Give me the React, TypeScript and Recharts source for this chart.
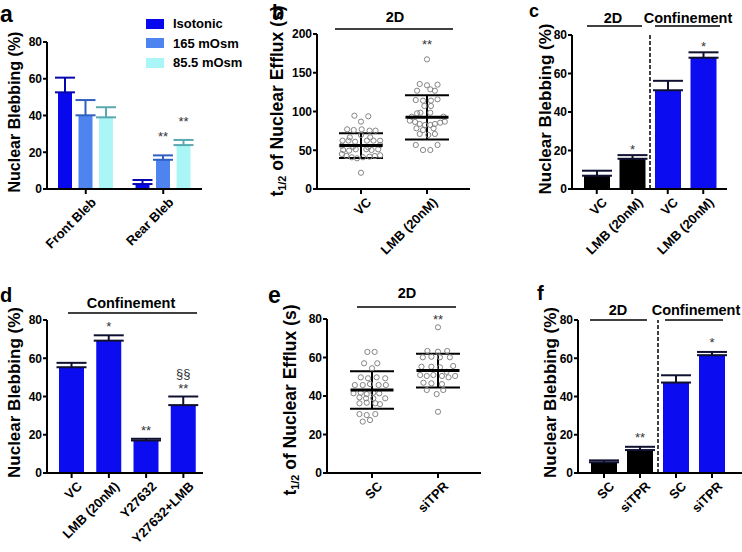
import type { ReactNode } from 'react';
import {
  Bar,
  BarChart,
  Cell,
  ErrorBar,
  Label,
  LabelList,
  Legend,
  ReferenceLine,
  Scatter,
  ScatterChart,
  XAxis,
  YAxis,
} from 'recharts';

const FONT = '"Liberation Sans", Arial, Helvetica, sans-serif';
const INK = '#000';
const BLUE = '#0c0cf0';
const DOT = '#858585';

// a — osmotic shock, front vs rear blebs
const blebSites = ['Front Bleb', 'Rear Bleb'];
const seriesNames = ['Isotonic', '165 mOsm', '85.5 mOsm'];
const isotonic = [52.6, 2.7];
const isotonicErr = [8.0, 2.2];
const mosm165 = [40.1, 15.9];
const mosm165Err = [8.3, 2.4];
const mosm85 = [39.0, 23.9];
const mosm85Err = [5.5, 2.8];
const mosm165Sig = ['', '**'];
const mosm85Sig = ['', '**'];

// b — efflux half-time, 2D
const bGroups = ['VC', 'LMB (20nM)'];
const vcEfflux = [94.6, 93.8, 86.9, 77.0, 76.1, 77.0, 75.3, 75.3, 62.4, 62.4, 61.0, 62.4, 62.4, 62.4, 50.3, 49.5, 51.2, 51.2, 50.3, 51.2, 45.2, 42.6, 40.9, 39.6, 40.9, 41.7, 42.6, 43.5, 21.0, 55.9, 56.8, 66.7, 66.7, 69.7, 54.6, 53.7];
const vcJitter = [-0.10, 0.11, 0, -0.21, -0.11, 0.01, 0.13, 0.22, -0.28, -0.19, -0.09, 0.09, 0.19, 0.29, -0.27, -0.18, -0.08, 0.08, 0.16, 0.26, -0.29, -0.22, -0.14, -0.06, 0.03, 0.13, 0.21, 0.29, 0, -0.29, 0.29, -0.17, 0.14, 0, -0.12, 0.11];
const lmbEfflux = [167.3, 135.5, 133.8, 134.6, 126.8, 128.6, 126.8, 114.8, 114.0, 114.0, 115.7, 107.1, 107.1, 98.5, 98.5, 88.2, 86.5, 83.9, 82.6, 82.6, 83.9, 85.6, 86.9, 78.3, 76.1, 78.3, 71.0, 69.7, 71.0, 56.8, 50.3, 50.3, 56.8, 93.3, 93.3, 97.6];
const lmbJitter = [0, -0.11, 0, 0.16, -0.15, 0.05, 0.12, -0.17, -0.06, 0.06, 0.16, -0.04, 0.06, -0.10, 0.05, -0.26, -0.18, -0.11, -0.03, 0.05, 0.12, 0.20, 0.27, -0.16, -0.06, 0.10, -0.11, 0.02, 0.12, -0.17, -0.06, 0.05, 0.16, -0.23, 0.25, -0.15];
const bMean = [56, 92.5];
const bSd = [16, 28.5];
const bSig = ['', '**'];

// c — LMB, 2D vs confinement
const cKeys = ['vc2d', 'lmb2d', 'vcConf', 'lmbConf'];
const cLabels = ['VC', 'LMB (20nM)', 'VC', 'LMB (20nM)'];
const cBleb = [6.9, 15.7, 51.3, 68.2];
const cErr = [2.6, 1.9, 4.9, 2.8];
const cSig = ['', '*', '', '*'];
const cColors = [INK, INK, BLUE, BLUE];

// d — confinement, ROCK inhibition
const dLabels = ['VC', 'LMB (20nM)', 'Y27632', 'Y27632+LMB'];
const dBleb = [55.3, 69.2, 17.0, 35.5];
const dErr = [2.3, 2.8, 0.9, 4.5];
const dSig = ['', '*', '**', '**'];
const dSig2 = ['', '', '', '§§'];

// e — efflux half-time, siTPR
const eGroups = ['SC', 'siTPR'];
const scEfflux = [62.9, 62.9, 57.0, 57.0, 54.4, 49.7, 49.2, 49.7, 49.2, 45.7, 45.7, 46.2, 45.7, 45.7, 41.4, 41.7, 41.0, 41.7, 41.4, 39.3, 38.8, 38.8, 38.8, 36.2, 36.5, 36.2, 35.8, 30.6, 30.1, 30.6, 26.7, 27.5];
const scJitter = [-0.07, 0.04, -0.12, 0.08, 0, -0.17, -0.06, 0.07, 0.20, -0.26, -0.14, -0.03, 0.10, 0.21, -0.28, -0.17, -0.08, 0.02, 0.11, -0.19, -0.09, 0.02, 0.20, -0.19, -0.08, 0.05, 0.12, -0.19, -0.08, 0.05, -0.14, -0.03];
const sitprEfflux = [75.7, 63.4, 63.0, 63.4, 60.1, 60.4, 60.1, 60.1, 55.2, 55.2, 54.9, 55.6, 50.9, 50.4, 50.9, 50.4, 49.7, 50.4, 46.9, 46.6, 46.2, 43.1, 41.0, 43.1, 31.8, 52.6];
const sitprJitter = [0, -0.16, 0, 0.14, -0.23, -0.10, 0.03, 0.18, -0.25, -0.10, 0.03, 0.23, -0.27, -0.17, -0.07, 0.06, 0.16, 0.26, -0.22, -0.10, 0.06, -0.17, -0.02, 0.08, 0, 0.13];
const eMean = [43.1, 53.2];
const eSd = [9.7, 8.8];
const eSig = ['', '**'];

// f — siTPR, 2D vs confinement
const fKeys = ['sc2d', 'si2d', 'scConf', 'siConf'];
const fLabels = ['SC', 'siTPR', 'SC', 'siTPR'];
const fBleb = [5.6, 12.0, 47.3, 61.6];
const fErr = [1.0, 1.7, 3.8, 1.7];
const fSig = ['', '**', '', '*'];
const fColors = [INK, INK, BLUE, BLUE];

const axisLine = { stroke: INK, strokeWidth: 2 };
const yTickStyle = { fontSize: 12, fontWeight: 700, fill: INK, fontFamily: FONT };
const pctTicks = [0, 20, 40, 60, 80];

// category labels run at 45°, ending just right of the tick
function SlantTick(props: any) {
  const { x, y, payload, labelOf } = props;
  return (
    <g transform={`translate(${x + 8},${y + 4})`}>
      <text
        x={0}
        y={0}
        dy="0.35em"
        textAnchor="end"
        transform="rotate(-45)"
        fontSize={13}
        fontWeight={700}
        fontFamily={FONT}
        fill={INK}
      >
        {labelOf(payload.value)}
      </text>
    </g>
  );
}

function yTitle(cx: number, cy: number, size: number, body: ReactNode) {
  return (
    <Label
      content={() => (
        <text
          transform={`translate(${cx},${cy}) rotate(-90)`}
          textAnchor="middle"
          dominantBaseline="central"
          fontFamily={FONT}
          fontWeight={700}
          fontSize={size}
          fill={INK}
        >
          {body}
        </text>
      )}
    />
  );
}

function effluxTitle(size: number) {
  return (
    <>
      <tspan>t</tspan>
      <tspan fontSize={size * 0.62} dy={size * 0.3}>1/2</tspan>
      <tspan dy={-size * 0.3}> of Nuclear Efflux (s)</tspan>
    </>
  );
}

// significance marks sit a fixed gap above the error bar cap
function starLabel(values: number[], errs: number[], sigs: string[], gap: number, sigs2?: string[]) {
  return (p: any) => {
    const i = p.index;
    if (!sigs[i]) return null;
    const vb = p.viewBox ?? p;
    const k = vb.height / values[i];
    const base = vb.y - errs[i] * k - gap;
    const cx = vb.x + vb.width / 2;
    return (
      <g>
        <text x={cx} y={base} textAnchor="middle" fontSize={13} fontFamily={FONT} fill="#333">
          {sigs[i]}
        </text>
        {sigs2 && sigs2[i] ? (
          <text x={cx} y={base - 15} textAnchor="middle" fontSize={13} fontFamily={FONT} fill="#333">
            {sigs2[i]}
          </text>
        ) : null}
      </g>
    );
  };
}

const dotShape = (p: any) => <circle cx={p.cx} cy={p.cy} r={2.6} fill="none" stroke={DOT} strokeWidth={1} />;
const meanShape = (p: any) => (
  <line x1={p.cx - 21.5} x2={p.cx + 21.5} y1={p.cy} y2={p.cy} stroke={INK} strokeWidth={3} />
);
function sigShape(offset: number) {
  return (p: any) =>
    p.payload.sig ? (
      <text x={p.cx} y={p.cy - offset} textAnchor="middle" fontSize={13} fontFamily={FONT} fill="#333">
        {p.payload.sig}
      </text>
    ) : (
      <g />
    );
}

function legendContent(p: any) {
  const items = [...(p.payload ?? [])].sort(
    (a: any, b: any) => seriesNames.indexOf(a.value) - seriesNames.indexOf(b.value),
  );
  return (
    <div style={{ fontFamily: FONT, fontWeight: 700, fontSize: 13, whiteSpace: 'nowrap' }}>
      {items.map((it: any) => (
        <div key={it.value} style={{ display: 'flex', alignItems: 'center', height: 19.5 }}>
          <span style={{ width: 18, height: 10, background: it.payload?.fill ?? it.color, marginRight: 9 }} />
          {it.value}
        </div>
      ))}
    </div>
  );
}

function PanelA() {
  const rows = blebSites.map((site, i) => ({
    site,
    iso: isotonic[i],
    isoErr: [0, isotonicErr[i]],
    m165: mosm165[i],
    m165Err: [0, mosm165Err[i]],
    m85: mosm85[i],
    m85Err: [0, mosm85Err[i]],
  }));
  return (
    <BarChart width={215} height={262} data={rows} margin={{ top: 42, right: 13, left: 0, bottom: 0 }} barSize={14} barGap={6.5}>
      <XAxis
        dataKey="site"
        height={73}
        interval={0}
        axisLine={axisLine}
        tickLine={axisLine}
        tickSize={5}
        tick={<SlantTick labelOf={(v: string) => v} />}
      />
      <YAxis width={47} domain={[0, 80]} ticks={pctTicks} interval={0} axisLine={axisLine} tickLine={axisLine} tickSize={4} tickMargin={1} tick={yTickStyle}>
        {yTitle(14, 112, 16, 'Nuclear Blebbing (%)')}
      </YAxis>
      <Legend layout="vertical" align="center" verticalAlign="middle" wrapperStyle={{ left: 146, top: 14, width: 100 }} content={legendContent} />
      <Bar dataKey="iso" name={seriesNames[0]} fill="#0808ee" isAnimationActive={false}>
        <ErrorBar dataKey="isoErr" direction="y" width={10} strokeWidth={2} stroke="#0606b0" />
      </Bar>
      <Bar dataKey="m165" name={seriesNames[1]} fill="#4d84f0" isAnimationActive={false}>
        <ErrorBar dataKey="m165Err" direction="y" width={10} strokeWidth={2} stroke="#2f5fc0" />
        <LabelList dataKey="m165" content={starLabel(mosm165, mosm165Err, mosm165Sig, 14)} />
      </Bar>
      <Bar dataKey="m85" name={seriesNames[2]} fill="#aaf6f6" isAnimationActive={false}>
        <ErrorBar dataKey="m85Err" direction="y" width={10} strokeWidth={2} stroke="#5aa8b0" />
        <LabelList dataKey="m85" content={starLabel(mosm85, mosm85Err, mosm85Sig, 14)} />
      </Bar>
    </BarChart>
  );
}

function EffluxPanel({
  groups,
  valuesA,
  jitterA,
  valuesB,
  jitterB,
  mean,
  sd,
  sig,
  sigOffset,
  width,
  height,
  top,
  yAxisWidth,
  right,
  xHeight,
  xDomain,
  yDomain,
  yTicks,
  title,
}: {
  groups: string[];
  valuesA: number[];
  jitterA: number[];
  valuesB: number[];
  jitterB: number[];
  mean: number[];
  sd: number[];
  sig: string[];
  sigOffset: number;
  width: number;
  height: number;
  top: number;
  yAxisWidth: number;
  right: number;
  xHeight: number;
  xDomain: [number, number];
  yDomain: [number, number];
  yTicks: number[];
  title: ReactNode;
}) {
  const dotsA = valuesA.map((y, i) => ({ x: 1 + jitterA[i], y }));
  const dotsB = valuesB.map((y, i) => ({ x: 2 + jitterB[i], y }));
  const summary = mean.map((m, i) => ({ x: i + 1, y: m, sd: sd[i] }));
  const marks = [
    { x: 1, y: Math.max(...valuesA), sig: sig[0] },
    { x: 2, y: Math.max(...valuesB), sig: sig[1] },
  ];
  return (
    <ScatterChart width={width} height={height} margin={{ top, right, left: 0, bottom: 0 }}>
      <XAxis
        type="number"
        dataKey="x"
        domain={xDomain}
        ticks={[1, 2]}
        interval={0}
        height={xHeight}
        axisLine={axisLine}
        tickLine={axisLine}
        tickSize={5}
        tick={<SlantTick labelOf={(v: number) => groups[v - 1]} />}
      />
      <YAxis type="number" dataKey="y" width={yAxisWidth} domain={yDomain} ticks={yTicks} interval={0} axisLine={axisLine} tickLine={axisLine} tickSize={4} tickMargin={1} tick={yTickStyle}>
        {title}
      </YAxis>
      <Scatter data={dotsA} shape={dotShape} isAnimationActive={false} />
      <Scatter data={dotsB} shape={dotShape} isAnimationActive={false} />
      <Scatter data={summary} shape={meanShape} isAnimationActive={false}>
        <ErrorBar dataKey="sd" direction="y" width={22} strokeWidth={2} stroke={INK} />
      </Scatter>
      <Scatter data={marks} shape={sigShape(sigOffset)} isAnimationActive={false} />
    </ScatterChart>
  );
}

function GroupedBarPanel({
  keys,
  labels,
  values,
  errs,
  sigs,
  sigs2,
  colors,
  gap,
  width,
  height,
  top,
  right,
  yAxisWidth,
  xHeight,
  padding,
  barSize,
  errStroke,
  divider,
  title,
}: {
  keys: string[];
  labels: string[];
  values: number[];
  errs: number[];
  sigs: string[];
  sigs2?: string[];
  colors: string[];
  gap: number;
  width: number;
  height: number;
  top: number;
  right: number;
  yAxisWidth: number;
  xHeight: number;
  padding: { left: number; right: number };
  barSize: number;
  errStroke: string;
  divider?: string;
  title: ReactNode;
}) {
  const rows = keys.map((key, i) => ({ key, v: values[i], err: [0, errs[i]] }));
  return (
    <BarChart width={width} height={height} data={rows} margin={{ top, right, left: 0, bottom: 0 }} barSize={barSize}>
      <XAxis
        dataKey="key"
        height={xHeight}
        interval={0}
        padding={padding}
        axisLine={axisLine}
        tickLine={axisLine}
        tickSize={5}
        tick={<SlantTick labelOf={(v: string) => labels[keys.indexOf(v)]} />}
      />
      <YAxis width={yAxisWidth} domain={[0, 80]} ticks={pctTicks} interval={0} axisLine={axisLine} tickLine={axisLine} tickSize={4} tickMargin={1} tick={yTickStyle}>
        {title}
      </YAxis>
      {divider ? (
        <ReferenceLine x={divider} position="end" stroke={INK} strokeWidth={1.5} strokeDasharray="4 2" />
      ) : null}
      <Bar dataKey="v" isAnimationActive={false}>
        {rows.map((r, i) => (
          <Cell key={r.key} fill={colors[i]} />
        ))}
        <ErrorBar dataKey="err" direction="y" width={15} strokeWidth={2} stroke={errStroke} />
        <LabelList dataKey="v" content={starLabel(values, errs, sigs, gap, sigs2)} />
      </Bar>
    </BarChart>
  );
}

function Overlay() {
  const letters: [string, number, number, number][] = [
    ['a', 0, 22, 23],
    ['b', 272, 19, 20],
    ['c', 529, 17, 18],
    ['d', 0, 302, 20],
    ['e', 268, 303, 23],
    ['f', 537, 300, 20],
  ];
  const headers: [string, number, number][] = [
    ['2D', 395, 22],
    ['2D', 613, 23],
    ['Confinement', 688, 23],
    ['Confinement', 131, 308],
    ['2D', 407, 298],
    ['2D', 618, 315],
    ['Confinement', 696, 315],
  ];
  const rules: [number, number, number][] = [
    [335, 453, 29],
    [587, 642, 26],
    [655, 720, 26],
    [68, 197, 313],
    [357, 456, 307],
    [590, 647, 320],
    [665, 723, 320],
  ];
  return (
    <svg width={742} height={552} style={{ position: 'absolute', left: 0, top: 0, pointerEvents: 'none' }}>
      {letters.map(([t, x, y, s]) => (
        <text key={t} x={x} y={y} fontSize={s} fontWeight={700} fontFamily={FONT} fill={INK}>
          {t}
        </text>
      ))}
      {headers.map(([t, x, y], i) => (
        <text key={i} x={x} y={y} textAnchor="middle" fontSize={14.5} fontWeight={700} fontFamily={FONT} fill={INK}>
          {t}
        </text>
      ))}
      {rules.map(([x1, x2, y], i) => (
        <line key={i} x1={x1} x2={x2} y1={y} y2={y} stroke={INK} strokeWidth={1.6} />
      ))}
    </svg>
  );
}

export default function App() {
  return (
    <div style={{ position: 'absolute', left: 0, top: 0, width: 742, height: 552, background: '#fff', overflow: 'hidden' }}>
      <div style={{ position: 'absolute', left: 0, top: 0 }}>
        <PanelA />
      </div>
      <div style={{ position: 'absolute', left: 240, top: 0 }}>
        <EffluxPanel
          groups={bGroups}
          valuesA={vcEfflux}
          jitterA={vcJitter}
          valuesB={lmbEfflux}
          jitterB={lmbJitter}
          mean={bMean}
          sd={bSd}
          sig={bSig}
          sigOffset={10}
          width={240}
          height={262}
          top={34}
          right={10}
          xHeight={73}
          yAxisWidth={77}
          xDomain={[0.333, 2.652]}
          yDomain={[0, 200]}
          yTicks={[0, 50, 100, 150, 200]}
          title={yTitle(37, 101, 17.5, effluxTitle(17.5))}
        />
      </div>
      <div style={{ position: 'absolute', left: 490, top: 0 }}>
        <GroupedBarPanel
          keys={cKeys}
          labels={cLabels}
          values={cBleb}
          errs={cErr}
          sigs={cSig}
          colors={cColors}
          gap={1}
          width={252}
          height={262}
          top={35}
          right={15}
          yAxisWidth={82}
          xHeight={73}
          padding={{ left: 7, right: 6 }}
          barSize={26}
          errStroke="#101030"
          divider="lmb2d"
          title={yTitle(55.5, 109, 17, 'Nuclear Blebbing (%)')}
        />
      </div>
      <div style={{ position: 'absolute', left: 0, top: 270 }}>
        <GroupedBarPanel
          keys={dLabels}
          labels={dLabels}
          values={dBleb}
          errs={dErr}
          sigs={dSig}
          sigs2={dSig2}
          colors={dLabels.map(() => BLUE)}
          gap={4}
          width={215}
          height={282}
          top={50}
          right={12}
          yAxisWidth={47}
          xHeight={79}
          padding={{ left: 6, right: 1 }}
          barSize={25}
          errStroke="#101030"
          title={yTitle(14, 122.5, 17, 'Nuclear Blebbing (%)')}
        />
      </div>
      <div style={{ position: 'absolute', left: 240, top: 270 }}>
        <EffluxPanel
          groups={eGroups}
          valuesA={scEfflux}
          jitterA={scJitter}
          valuesB={sitprEfflux}
          jitterB={sitprJitter}
          mean={eMean}
          sd={eSd}
          sig={eSig}
          sigOffset={3.5}
          width={250}
          height={282}
          top={49}
          right={9}
          xHeight={79}
          yAxisWidth={87}
          xDomain={[0.318, 2.652]}
          yDomain={[0, 80]}
          yTicks={pctTicks}
          title={yTitle(50, 130, 17.5, effluxTitle(17.5))}
        />
      </div>
      <div style={{ position: 'absolute', left: 490, top: 270 }}>
        <GroupedBarPanel
          keys={fKeys}
          labels={fLabels}
          values={fBleb}
          errs={fErr}
          sigs={fSig}
          colors={fColors}
          gap={5}
          width={252}
          height={282}
          top={50}
          right={0}
          yAxisWidth={88}
          xHeight={79}
          padding={{ left: 8, right: 12 }}
          barSize={26}
          errStroke="#101030"
          divider="si2d"
          title={yTitle(60, 122.5, 17, 'Nuclear Blebbing (%)')}
        />
      </div>
      <Overlay />
    </div>
  );
}
